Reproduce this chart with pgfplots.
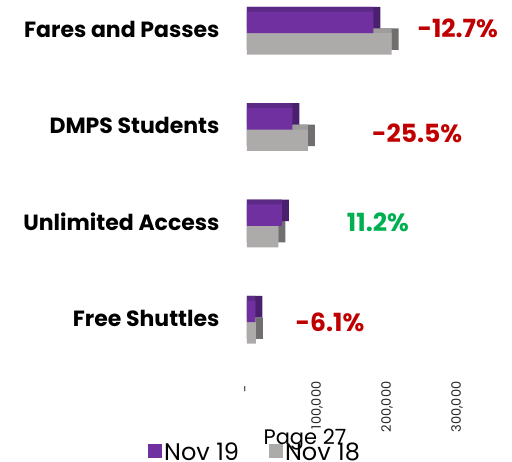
\documentclass[border=0pt]{standalone}
\usepackage{fontspec}
\setmainfont{Poppins}
\usepackage{pgfplots}
\usepackage{pgfplotstable}
\pgfplotsset{compat=1.18}
\definecolor{purpF}{HTML}{7030A0}
\definecolor{purpT}{HTML}{5B2A86}
\definecolor{purpS}{HTML}{4A1F6E}
\definecolor{grayF}{HTML}{ADAAAA}
\definecolor{grayT}{HTML}{9F9C9C}
\definecolor{grayS}{HTML}{706E6E}
\definecolor{negred}{HTML}{C00000}
\definecolor{posgreen}{HTML}{00B050}
\pgfplotstableread{
y v
3 180500
2 64800
1 50000
0 12000
}\novnineteen
\pgfplotstableread{
y v
3 206700
2 87000
1 45000
0 12800
}\noveighteen
\begin{document}
\begin{tikzpicture}[x=1pt,y=1pt]
\useasboundingbox (0,0) rectangle (512,462);
\begin{axis}[
  at={(247pt,84pt)}, anchor=south west,
  scale only axis, width=255.5pt, height=378.5pt,
  xmin=0, xmax=365000, ymin=-0.58, ymax=3.35,
  clip=false,
  scaled x ticks=false,
  axis line style={draw=none},
  major tick length=0pt,
  xtick={0,100000,200000,300000},
  xticklabels={{-\kern4pt},{100,000},{200,000},{300,000}},
  xticklabel style={rotate=90, anchor=east, font=\fontsize{13}{13}\selectfont, text=black!85},
  ytick={0,1,2,3},
  yticklabels={Free Shuttles, Unlimited Access, DMPS Students, Fares and Passes},
  yticklabel style={font=\bfseries\fontsize{22}{22}\selectfont, anchor=east, xshift=-24pt, yshift=4pt},
  bar width=0.223,
  legend columns=2,
  legend image code/.code={\fill[#1] (0pt,-5pt) rectangle (14pt,9pt);},
  legend style={at={(-0.3875,-0.166)}, anchor=north west, draw=none, fill=none,
    inner sep=0pt, font=\fontsize{24}{24}\selectfont,
    /tikz/every even column/.append style={column sep=28pt}},
]
\addlegendimage{fill=purpF, draw=none}
\addlegendentry{Nov 19}
\addlegendimage{fill=grayF, draw=none}
\addlegendentry{Nov 18}
% Nov 18 (gray)
\addplot[xbar, forget plot, draw=none, fill=grayS, bar shift=-0.0615] table[x expr=\thisrow{v}+10000, y=y]{\noveighteen};
\addplot[xbar, forget plot, draw=none, fill=grayT, bar shift=-0.0615] table[x=v, y=y]{\noveighteen};
\addplot[xbar, forget plot, draw=none, fill=grayF, bar shift=-0.1115] table[x=v, y=y]{\noveighteen};
% Nov 19 (purple)
\addplot[xbar, forget plot, draw=none, fill=purpS, bar shift=0.1615] table[x expr=\thisrow{v}+10000, y=y]{\novnineteen};
\addplot[xbar, forget plot, draw=none, fill=purpT, bar shift=0.1615] table[x=v, y=y]{\novnineteen};
\addplot[xbar, forget plot, draw=none, fill=purpF, bar shift=0.1115] table[x=v, y=y]{\novnineteen};
% change labels
\node[font=\bfseries\fontsize{25}{25}\selectfont, text=negred] at (axis cs:301000,3.05) {-12.7\%};
\node[font=\bfseries\fontsize{25}{25}\selectfont, text=negred] at (axis cs:243000,1.96) {-25.5\%};
\node[font=\bfseries\fontsize{25}{25}\selectfont, text=posgreen] at (axis cs:187000,1.04) {11.2\%};
\node[font=\bfseries\fontsize{25}{25}\selectfont, text=negred] at (axis cs:118600,0.0) {-6.1\%};
\end{axis}
\node[font=\fontsize{21}{21}\selectfont] at (305,22) {Page 27};
\end{tikzpicture}
\end{document}
